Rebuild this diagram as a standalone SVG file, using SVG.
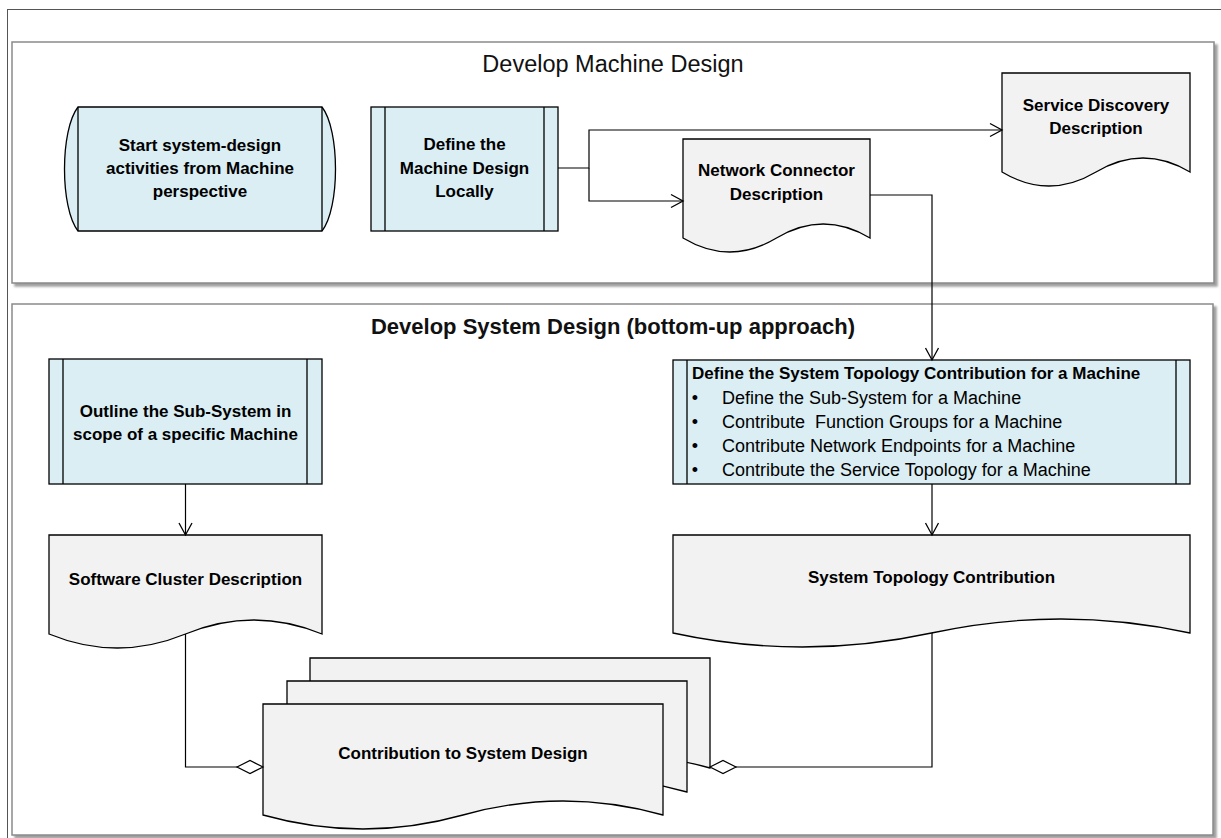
<svg xmlns="http://www.w3.org/2000/svg" width="1221" height="838" viewBox="0 0 1221 838">
<defs>
<style>
.lbl{font-family:"Liberation Sans",Arial,sans-serif;font-weight:bold;font-size:17px;fill:#000;text-anchor:middle}
.ttl{font-family:"Liberation Sans",Arial,sans-serif;fill:#111;text-anchor:middle}
.proc{fill:#DAEEF3;stroke:#000;stroke-width:1.3}
.doc{fill:#F2F2F2;stroke:#000;stroke-width:1.3}
.ln{fill:none;stroke:#000;stroke-width:1.3}
.con{fill:none;stroke:#000;stroke-width:1.2}
.panel{fill:#fff;stroke:#8a8a8a;stroke-width:1.5;filter:url(#sh)}
.bul{font-family:"Liberation Sans",Arial,sans-serif;font-size:18px;fill:#000;white-space:pre}
.bt{font-family:"Liberation Sans",Arial,sans-serif;font-weight:bold;font-size:17px;fill:#000}
</style>
<filter id="sh" x="-2%" y="-2%" width="104%" height="106%">
<feDropShadow dx="3" dy="3" stdDeviation="1.2" flood-color="#777" flood-opacity="0.7"/>
</filter>
<marker id="arr" markerUnits="userSpaceOnUse" markerWidth="16" markerHeight="16" refX="14" refY="8" orient="auto">
<path d="M2,1.5 L14,8 L2,14.5" fill="none" stroke="#000" stroke-width="1.3"/>
</marker>
<marker id="dia" markerUnits="userSpaceOnUse" markerWidth="30" markerHeight="16" refX="28" refY="8" orient="auto">
<path d="M2,8 L15,1.5 L28,8 L15,14.5 Z" fill="#fff" stroke="#000" stroke-width="1.2"/>
</marker>
</defs>

<rect x="7.5" y="9.5" width="1240" height="850" fill="none" stroke="#555" stroke-width="1"/>

<g id="panel-machine">
<rect class="panel" x="12" y="42" width="1202" height="241"/>
<text class="ttl" x="613" y="72" font-size="23.5">Develop Machine Design</text>
</g>
<g id="panel-system">
<rect class="panel" x="12" y="304" width="1201" height="531"/>
<text class="ttl" x="613" y="334" font-size="22" font-weight="bold">Develop System Design (bottom-up approach)</text>
</g>

<g id="start">
<path class="proc" d="M78,107 H322 C340,130 340,208 322,231 H78 C60,208 60,130 78,107 Z"/>
<path class="ln" d="M78,107 V231 M322,107 V231"/>
<text class="lbl" x="200" y="151">Start system-design</text>
<text class="lbl" x="200" y="174">activities from Machine</text>
<text class="lbl" x="200" y="197">perspective</text>
</g>

<g id="define-machine">
<rect class="proc" x="371" y="107" width="187" height="124"/>
<path class="ln" d="M385,107 V231 M544,107 V231"/>
<text class="lbl" x="464.5" y="150">Define the</text>
<text class="lbl" x="464.5" y="174">Machine Design</text>
<text class="lbl" x="464.5" y="197">Locally</text>
</g>

<g id="network-connector">
<path class="doc" d="M683,139 H870 V238 Q823.25,210 776.5,238 T683,238 Z"/>
<text class="lbl" x="776.5" y="176">Network Connector</text>
<text class="lbl" x="776.5" y="200">Description</text>
</g>

<g id="service-discovery">
<path class="doc" d="M1002,73 H1190 V172 Q1143,144 1096,172 T1002,172 Z"/>
<text class="lbl" x="1096" y="111">Service Discovery</text>
<text class="lbl" x="1096" y="134">Description</text>
</g>

<g id="outline-subsystem">
<rect class="proc" x="49" y="359" width="273" height="125"/>
<path class="ln" d="M63,359 V484 M307,359 V484"/>
<text class="lbl" x="185.5" y="417">Outline the Sub-System in</text>
<text class="lbl" x="185.5" y="440">scope of a specific Machine</text>
</g>

<g id="software-cluster">
<path class="doc" d="M49,535 H322 V634 Q253.75,606 185.5,634 T49,634 Z"/>
<text class="lbl" x="185.5" y="585">Software Cluster Description</text>
</g>

<g id="define-topology">
<rect class="proc" x="673" y="360" width="517" height="124"/>
<path class="ln" d="M687,360 V484 M1176,360 V484"/>
<text class="bt" x="692" y="379">Define the System Topology Contribution for a Machine</text>
<text class="bul" x="695" y="404" text-anchor="middle">•</text>
<text class="bul" x="722" y="404">Define the Sub-System for a Machine</text>
<text class="bul" x="695" y="428" text-anchor="middle">•</text>
<text class="bul" x="722" y="428">Contribute  Function Groups for a Machine</text>
<text class="bul" x="695" y="452" text-anchor="middle">•</text>
<text class="bul" x="722" y="452">Contribute Network Endpoints for a Machine</text>
<text class="bul" x="695" y="476" text-anchor="middle">•</text>
<text class="bul" x="722" y="476">Contribute the Service Topology for a Machine</text>
</g>

<g id="system-topology">
<path class="doc" d="M673,535 H1190 V633 Q1060.75,605 931.5,633 T673,633 Z"/>
<text class="lbl" x="931.5" y="583">System Topology Contribution</text>
</g>

<g id="contribution">
<path class="doc" d="M310,658 H710 V768 Q610,740 510,768 T310,768 Z"/>
<path class="doc" d="M287,681 H687 V792 Q587,764 487,792 T287,792 Z"/>
<path class="doc" d="M263,704 H663 V815 Q563,787 463,815 T263,815 Z"/>
<text class="lbl" x="463" y="759">Contribution to System Design</text>
</g>

<g id="connectors">
<path class="con" d="M558,168 H589 V130 H1002" marker-end="url(#arr)"/>
<path class="con" d="M589,168 V201 H683" marker-end="url(#arr)"/>
<path class="con" d="M870,195 H932 V360" marker-end="url(#arr)"/>
<path class="con" d="M185.5,484 V535" marker-end="url(#arr)"/>
<path class="con" d="M932,484 V535" marker-end="url(#arr)"/>
<path class="con" d="M185.5,634 V767 H263" marker-end="url(#dia)"/>
<path class="con" d="M932,633 V767 H710" marker-end="url(#dia)"/>
</g>
</svg>
